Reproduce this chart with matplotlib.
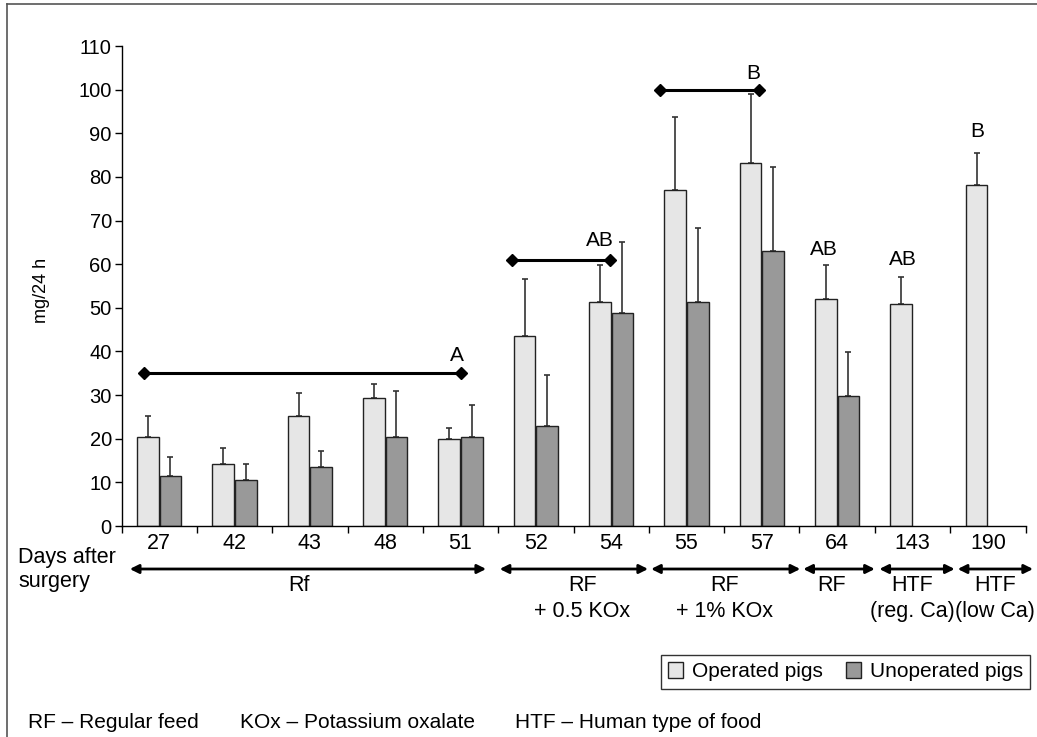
import numpy as np
import matplotlib.pyplot as plt
from matplotlib.transforms import blended_transform_factory
from matplotlib.lines import Line2D

plt.rcParams['font.family'] = ['Liberation Sans', 'DejaVu Sans']

# Dados
days = ['27', '42', '43', '48', '51', '52', '54', '55', '57', '64', '143', '190']
operated = [20.4, 14.1, 25.2, 29.4, 19.9, 43.5, 51.3, 77.0, 83.3, 52.0, 50.9, 78.1]
operated_err = [4.8, 3.7, 5.2, 3.1, 2.6, 13.1, 8.5, 16.8, 15.7, 7.8, 6.2, 7.3]
unoperated = [11.5, 10.5, 13.6, 20.4, 20.4, 23.0, 48.9, 51.4, 63.0, 29.9, np.nan, np.nan]
unoperated_err = [4.2, 3.6, 3.7, 10.5, 7.4, 11.7, 16.2, 16.9, 19.3, 10.0, np.nan, np.nan]

# linhas de significancia: (inicio, fim, y)
sig_lines = [(-0.2, 4.0, 35), (4.68, 5.99, 61), (6.65, 7.96, 100)]
# letras: (x, y, texto)
sig_letters = [(3.95, 37.0, 'A'), (5.85, 63.2, 'AB'), (7.88, 101.5, 'B'),
               (8.82, 61.2, 'AB'), (9.87, 59.0, 'AB'), (10.86, 88.2, 'B')]
# grupos de dieta: (inicio, fim, texto, x do texto)
groups = [(-0.39, 4.34, 'Rf', 1.85),
          (4.52, 6.49, 'RF\n+ 0.5 KOx', 5.62),
          (6.53, 8.51, 'RF\n+ 1% KOx', 7.5),
          (8.55, 9.50, 'RF', 8.93),
          (9.56, 10.56, 'HTF\n(reg. Ca)', 10.0),
          (10.60, 11.60, 'HTF\n(low Ca)', 11.1)]

W, H = 1037, 737
fig = plt.figure(figsize=(W / 100, H / 100), dpi=100)
ax = fig.add_axes([121.5 / W, (H - 526) / H, 904 / W, 480 / H])

x = np.arange(len(days))
bw = 0.29
ax.bar(x - 0.15, operated, bw, color='#e6e6e6', edgecolor='#222222', linewidth=1,
       label='Operated pigs', zorder=2)
ax.bar(x + 0.15, unoperated, bw, color='#999999', edgecolor='#222222', linewidth=1,
       label='Unoperated pigs', zorder=2)
ax.errorbar(x - 0.15, operated, yerr=[np.zeros(len(x)), operated_err], fmt='none',
            ecolor='#333333', elinewidth=1.2, capsize=2.5, capthick=1.2, zorder=1)
ax.errorbar(x + 0.15, unoperated, yerr=[np.zeros(len(x)), unoperated_err], fmt='none',
            ecolor='#333333', elinewidth=1.2, capsize=2.5, capthick=1.2, zorder=1)

for x0, x1, yv in sig_lines:
    ax.plot([x0, x1], [yv, yv], color='black', lw=2.2, marker='D', markersize=6, zorder=3)
for xt, yt, s in sig_letters:
    ax.text(xt, yt, s, ha='center', va='bottom', fontsize=15)

ax.set_xlim(-0.5, 11.5)
ax.set_ylim(0, 110)
ax.set_yticks(range(0, 111, 10))
ax.set_xticks(x)
ax.set_xticklabels(days)
ax.set_xticks(np.arange(-0.5, 11.6, 1), minor=True)
ax.tick_params(axis='x', which='major', length=0, pad=5, labelsize=15.5)
ax.tick_params(axis='x', which='minor', length=5, width=1, direction='out')
ax.tick_params(axis='y', length=5, width=1, direction='out', labelsize=14.5, pad=2)
for s in ['top', 'right']:
    ax.spines[s].set_visible(False)
for s in ['left', 'bottom']:
    ax.spines[s].set_linewidth(1)

fig.text(42 / W, 1 - 290 / H, 'mg/24 h', rotation=90, ha='center', va='center', fontsize=13)
fig.text(18 / W, 1 - 557 / H, 'Days after', ha='left', va='center', fontsize=15.5)
fig.text(18 / W, 1 - 582 / H, 'surgery', ha='left', va='center', fontsize=15.5)

tr = blended_transform_factory(ax.transData, fig.transFigure)
for x0, x1, label, xl in groups:
    ax.annotate('', xy=(x1, 1 - 569 / H), xytext=(x0, 1 - 569 / H), xycoords=tr,
                textcoords=tr, annotation_clip=False,
                arrowprops=dict(arrowstyle='<|-|>', color='black', lw=2,
                                mutation_scale=13, shrinkA=0, shrinkB=0))
    ax.text(xl, 1 - 575 / H, label, transform=tr, ha='center', va='top',
            fontsize=15.5, linespacing=1.3)

leg = fig.legend(loc='upper right', bbox_to_anchor=(1030 / W, 1 - 655 / H), ncol=2,
                 fontsize=15, frameon=True, fancybox=False, handlelength=0.75,
                 handleheight=0.75, handletextpad=0.4, columnspacing=1.1,
                 borderpad=0.35, borderaxespad=0)
leg.get_frame().set_edgecolor('black')
leg.get_frame().set_linewidth(1)

fig.text(28 / W, 1 - 722 / H, 'RF – Regular feed', ha='left', va='center', fontsize=15)
fig.text(240 / W, 1 - 722 / H, 'KOx – Potassium oxalate', ha='left', va='center', fontsize=15)
fig.text(515 / W, 1 - 722 / H, 'HTF – Human type of food', ha='left', va='center', fontsize=15)

# moldura da figura
fig.add_artist(Line2D([7 / W, 7 / W], [0, 1 - 4 / H], transform=fig.transFigure,
                      color='#555555', lw=1.2))
fig.add_artist(Line2D([7 / W, 1], [1 - 4 / H, 1 - 4 / H], transform=fig.transFigure,
                      color='#555555', lw=1.2))

fig.savefig('out.png', dpi=100)
